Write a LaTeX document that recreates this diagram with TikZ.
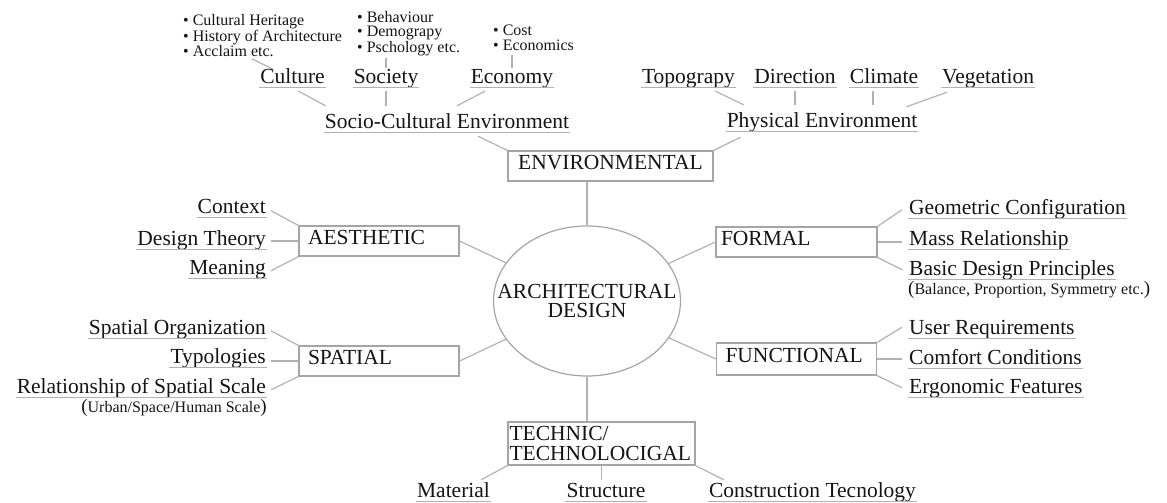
\documentclass[tikz,border=0pt]{standalone}
\usepackage{fontspec}
\setmainfont{Liberation Serif}
\usetikzlibrary{shapes.geometric,positioning}
\definecolor{linegray}{RGB}{178,178,178}
\definecolor{boxgray}{RGB}{165,165,165}
\definecolor{inkgray}{RGB}{20,20,20}
\newcommand{\bigtxt}{\fontsize{21.5}{19.5}\selectfont}
\newcommand{\smalltxt}{\fontsize{16}{14.5}\selectfont}
\newcommand{\parentxt}{\fontsize{19}{19}\selectfont}

\begin{document}
\begin{tikzpicture}[
    x=1pt, y=-1pt, font=\bigtxt, text=inkgray,
    link/.style={draw=linegray, line width=1.2pt},
    uline/.style={draw=linegray, line width=1pt},
    leaf/.style={inner xsep=1pt, inner ysep=0pt, text height=15pt, text depth=4.5pt,
        append after command={(\tikzlastnode.south west) edge[uline] (\tikzlastnode.south east)}},
    list/.style={font=\smalltxt, align=left, inner sep=0pt, anchor=north west},
    note/.style={font=\smalltxt, inner sep=0pt},
    box/.style={draw=boxgray, line width=1.2pt, inner ysep=0pt, text height=14pt, text depth=8pt, minimum height=30pt},
    lbox/.style={box, inner xsep=9pt, text width=142pt, align=left},
]
\useasboundingbox (0,0) rectangle (1167,503);

% Nodes
\node[draw=boxgray, line width=1.2pt, ellipse, minimum width=187pt, minimum height=150pt, inner sep=0pt] (arch) at (587,301) {};
\node[align=center, inner sep=0pt] (archtext) at (arch) {ARCHITECTURAL\\DESIGN};
\node[box, minimum width=205pt] (env) at (610.5,166) {ENVIRONMENTAL};
\node[lbox] (aes) at (379,241) {AESTHETIC};
\node[lbox] (spat) at (379,361) {SPATIAL};
\node[lbox, inner xsep=5pt, text width=151pt] (formal) at (796.5,242) {FORMAL};
\node[lbox, minimum height=32pt] (func) at (796.5,359) {FUNCTIONAL};
\node[draw=boxgray, line width=1.2pt, inner sep=1.5pt, text width=184pt, align=left, minimum height=43pt,
    font=\fontsize{21.5}{19.5}\selectfont] (tech) at (601.5,443.5) {TECHNIC/\\TECHNOLOCIGAL};

% Socio-cultural side
\node[leaf, anchor=base] (culture) at (292.5,83) {Culture};
\node[leaf, anchor=base] (society) at (386,83) {Society};
\node[leaf, anchor=base] (economy) at (512,83) {Economy};
\node[leaf, anchor=base] (socio) at (447,128) {Socio-Cultural Environment};
\node[list] (culturelist) at (183,14) {\textbullet\ Cultural Heritage\\\textbullet\ History of Architecture\\\textbullet\ Acclaim etc.};
\node[list] (societylist) at (357,11) {\textbullet\ Behaviour\\\textbullet\ Demograpy\\\textbullet\ Pschology etc.};
\node[list] (economylist) at (493,25) {\textbullet\ Cost\\\textbullet\ Economics};

% Physical side
\node[leaf, anchor=base] (topo) at (688.5,83) {Topograpy};
\node[leaf, anchor=base] (direction) at (795,83) {Direction};
\node[leaf, anchor=base] (climate) at (884,83) {Climate};
\node[leaf, anchor=base west] (vegetation) at (941,83) {Vegetation};
\node[leaf, anchor=base] (physical) at (822,127) {Physical Environment};

% Left leaves
\node[leaf, anchor=base east] (context) at (267,213) {Context};
\node[leaf, anchor=base east] (design) at (267,245) {Design Theory};
\node[leaf, anchor=base east] (meaning) at (267,274) {Meaning};
\node[leaf, anchor=base east] (spatorg) at (267,334) {Spatial Organization};
\node[leaf, anchor=base east] (typo) at (267,363) {Typologies};
\node[leaf, anchor=base east] (relation) at (267,393) {Relationship of Spatial Scale};
\node[note, below=1pt of relation.south east, anchor=north east] (urban) {{\parentxt(}Urban/Space/Human Scale{\parentxt)}};

% Right leaves
\node[leaf, anchor=base west] (geo) at (908,214) {Geometric Configuration};
\node[leaf, anchor=base west] (mass) at (908,245) {Mass Relationship};
\node[leaf, anchor=base west] (basic) at (908,275) {Basic Design Principles};
\node[note, below=1pt of basic.south west, anchor=north west] (balance) {{\parentxt(}Balance, Proportion, Symmetry etc.{\parentxt)}};
\node[leaf, anchor=base west] (user) at (908,334) {User Requirements};
\node[leaf, anchor=base west] (comfort) at (908,364) {Comfort Conditions};
\node[leaf, anchor=base west] (ergo) at (908,393) {Ergonomic Features};

% Bottom leaves
\node[leaf, anchor=base] (material) at (453.5,497) {Material};
\node[leaf, anchor=base] (structure) at (606,497) {Structure};
\node[leaf, anchor=base] (construction) at (812.5,497) {Construction Tecnology};

% Links, top left
\draw[link] ([xshift=69pt,yshift=-2pt]culturelist.south west) -- ([xshift=-20pt,yshift=-1pt]culture.north);
\draw[link, shorten >=1.5pt] (society.north) -- (society.north |- societylist.south);
\draw[link, shorten >=4pt] (economy.north) -- (economy.north |- economylist.south);
\draw[link] ([xshift=6pt,yshift=-3.5pt]culture.south) -- ([xshift=2pt,yshift=7pt]socio.north west);
\draw[link, shorten <=3.5pt, shorten >=7pt] (society.south) -- (society.south |- socio.north);
\draw[link] ([xshift=-27pt,yshift=-3.5pt]economy.south) -- ([xshift=10pt,yshift=7pt]socio.north);
\draw[link] ([xshift=31pt,yshift=-3.5pt]socio.south) -- (env.north west);

% Links, top right
\draw[link] ([xshift=27pt,yshift=-3.5pt]topo.south) -- ([xshift=18pt,yshift=7pt]physical.north west);
\draw[link, shorten <=3.5pt, shorten >=7pt] (direction.south) -- (direction.south |- physical.north);
\draw[link, shorten <=3.5pt, shorten >=7pt] ([xshift=-11pt]climate.south) -- ([xshift=-11pt]climate.south |- physical.north);
\draw[link] ([xshift=6pt,yshift=-4.5pt]vegetation.south west) -- ([xshift=-12pt,yshift=5pt]physical.north east);
\draw[link] ([xshift=15pt,yshift=-5.5pt]physical.south west) -- (env.north east);

% Links round the centre
\draw[link] (arch.north) -- (arch.north |- env.south);
\draw[link] (arch.south) -- (arch.south |- tech.north);
\draw[link] (aes.east) -- (arch);
\draw[link] (spat.east) -- (arch);
\draw[link] (formal.west) -- (arch);
\draw[link] (func.west) -- (arch);

% Links, left
\draw[link] ([xshift=4pt,yshift=-3pt]context.east) -- (aes.north west);
\draw[link] ([xshift=4pt]design.east |- aes.west) -- (aes.west);
\draw[link] ([xshift=4pt,yshift=-2pt]meaning.east) -- (aes.south west);
\draw[link] ([xshift=4pt,yshift=-2pt]spatorg.east) -- (spat.north west);
\draw[link] ([xshift=4pt]typo.east |- spat.west) -- (spat.west);
\draw[link] ([xshift=4pt,yshift=-2pt]relation.east) -- (spat.south west);

% Links, right
\draw[link] (formal.north east) -- ([xshift=-6pt,yshift=-1pt]geo.west);
\draw[link] (formal.east) -- ([xshift=-6pt]formal.east -| mass.west);
\draw[link] (formal.south east) -- ([xshift=-6pt]basic.west);
\draw[link] (func.north east) -- ([xshift=-6pt,yshift=1.5pt]user.west);
\draw[link] (func.east) -- ([xshift=-6pt]func.east -| comfort.west);
\draw[link] (func.south east) -- ([xshift=-6pt]ergo.west);

% Links, bottom
\draw[link] (tech.south west) -- ([xshift=-10pt,yshift=2pt]material.north east);
\draw[link, shorten >=2pt] (tech.south) -- (tech.south |- structure.north);
\draw[link] (tech.south east) -- ([xshift=16pt,yshift=2pt]construction.north west);

\end{tikzpicture}
\end{document}
